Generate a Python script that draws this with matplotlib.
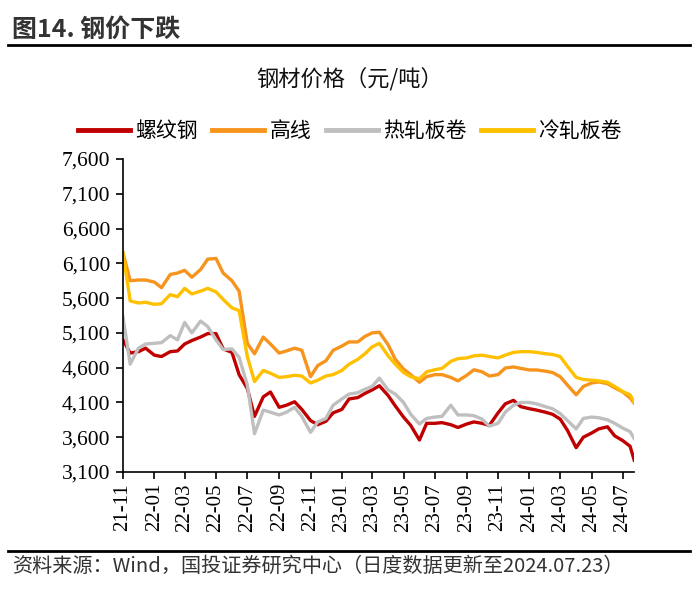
import numpy as np
import pandas as pd
import matplotlib
matplotlib.use('Agg')
import matplotlib.pyplot as plt
import matplotlib.dates as mdates
from matplotlib.ticker import FuncFormatter

plt.rcParams['font.family'] = ['Noto Sans CJK SC', 'DejaVu Sans']

# semi-monthly readings, 2021-11-01 .. 2024-07-23
dates = list(pd.date_range('2021-11-01', '2024-07-16', freq='SMS')) + [pd.Timestamp('2024-07-23')]

rebar = [5000, 4810, 4830, 4880, 4780, 4760, 4830, 4840, 4940, 4990, 5040, 5090,
         5090, 4870, 4820, 4500, 4300, 3900, 4180, 4250, 4030, 4060, 4110, 4000,
         3840, 3780, 3830, 3950, 4000, 4150, 4170, 4230, 4280, 4340, 4200, 4050,
         3890, 3770, 3560, 3800, 3800, 3810, 3780, 3740, 3790, 3820, 3800, 3770,
         3950, 4080, 4130, 4040, 4010, 3990, 3960, 3930, 3860, 3700, 3450, 3600,
         3660, 3720, 3750, 3620, 3550, 3470, 3270]
wire = [6250, 5850, 5860, 5860, 5830, 5750, 5940, 5960, 6000, 5900, 6010, 6160,
        6170, 5960, 5850, 5700, 4950, 4800, 5040, 4940, 4810, 4840, 4880, 4850,
        4470, 4630, 4700, 4850, 4910, 4970, 4970, 5050, 5100, 5110, 4930, 4720,
        4580, 4500, 4390, 4470, 4500, 4500, 4460, 4410, 4490, 4570, 4540, 4480,
        4500, 4595, 4610, 4590, 4567, 4567, 4550, 4530, 4470, 4350, 4210, 4330,
        4380, 4395, 4370, 4310, 4250, 4163, 4090]
hot_coil = [5330, 4650, 4880, 4940, 4950, 4960, 5060, 5000, 5250, 5100, 5270, 5190,
            5000, 4860, 4870, 4750, 4350, 3650, 3990, 3960, 3920, 3960, 4030, 3900,
            3670, 3820, 3870, 4060, 4150, 4220, 4240, 4290, 4330, 4450, 4280, 4220,
            4100, 3930, 3790, 3870, 3890, 3900, 4060, 3920, 3920, 3910, 3860, 3760,
            3800, 3960, 4060, 4100, 4100, 4080, 4040, 4010, 3940, 3840, 3720, 3870,
            3890, 3880, 3850, 3800, 3730, 3680, 3580]
cold_coil = [6250, 5560, 5530, 5540, 5510, 5520, 5650, 5620, 5740, 5660, 5700, 5740,
             5690, 5580, 5460, 5420, 4760, 4400, 4560, 4520, 4460, 4470, 4490, 4480,
             4380, 4420, 4480, 4500, 4560, 4650, 4720, 4800, 4900, 4950, 4770, 4650,
             4530, 4470, 4440, 4540, 4570, 4590, 4690, 4730, 4740, 4770, 4780, 4760,
             4740, 4780, 4820, 4830, 4830, 4820, 4800, 4790, 4760, 4620, 4460, 4430,
             4420, 4410, 4390, 4330, 4255, 4210, 4100]

names = ['螺纹钢', '高线', '热轧板卷', '冷轧板卷']
colors = ['#C00000', '#F7941D', '#BFBFBF', '#FFC000']
y_ticks = list(range(3100, 7601, 500))

fig = plt.figure(figsize=(7, 5.99), dpi=100)

# header
fig.text(0.017, 0.951, '图14. 钢价下跌', fontsize=18, fontweight='bold', color='#333333', va='center')
fig.add_artist(plt.Line2D([0.012, 0.986], [0.925, 0.925], color='black', lw=2))
fig.text(0.5, 0.868, '钢材价格（元/吨）', fontsize=16, ha='center', va='center', color='#111111')

ax = fig.add_axes([0.1757, 0.212, 0.7303, 0.5226])
for vals, name, c in zip([rebar, wire, hot_coil, cold_coil], names, colors):
    ax.plot(dates, vals, color=c, lw=2.4, label=name, solid_joinstyle='round')

ax.set_ylim(3100, 7600)
ax.set_yticks(y_ticks)
ax.yaxis.set_major_formatter(FuncFormatter(lambda v, p: f'{int(v):,}'))
ax.set_xlim(pd.Timestamp('2021-11-01'), pd.Timestamp('2024-07-23'))
ax.xaxis.set_major_locator(mdates.MonthLocator(bymonth=[1, 3, 5, 7, 9, 11]))
ax.xaxis.set_major_formatter(mdates.DateFormatter('%y-%m'))

for s in ['top', 'right']:
    ax.spines[s].set_visible(False)
for s in ['left', 'bottom']:
    ax.spines[s].set_linewidth(1.2)
ax.tick_params(axis='both', direction='out', length=5, width=1.2,
               labelfontfamily='Liberation Serif', colors='black')
ax.tick_params(axis='y', labelsize=15.5, pad=4)
ax.tick_params(axis='x', labelsize=15, labelrotation=90, pad=3)

leg = fig.legend(loc='center', bbox_to_anchor=(0.5, 0.781), ncol=4, frameon=False,
                 fontsize=15, handlelength=2.5, handletextpad=0.25, columnspacing=0.7)
for h in leg.get_lines():
    h.set_linewidth(3.5)

# footer
fig.add_artist(plt.Line2D([0.012, 0.986], [0.08, 0.08], color='black', lw=2))
fig.text(0.017, 0.055, '资料来源：Wind，国投证券研究中心（日度数据更新至2024.07.23）',
         fontsize=14.5, color='#333333', va='center')

fig.savefig('out.png', dpi=100)
